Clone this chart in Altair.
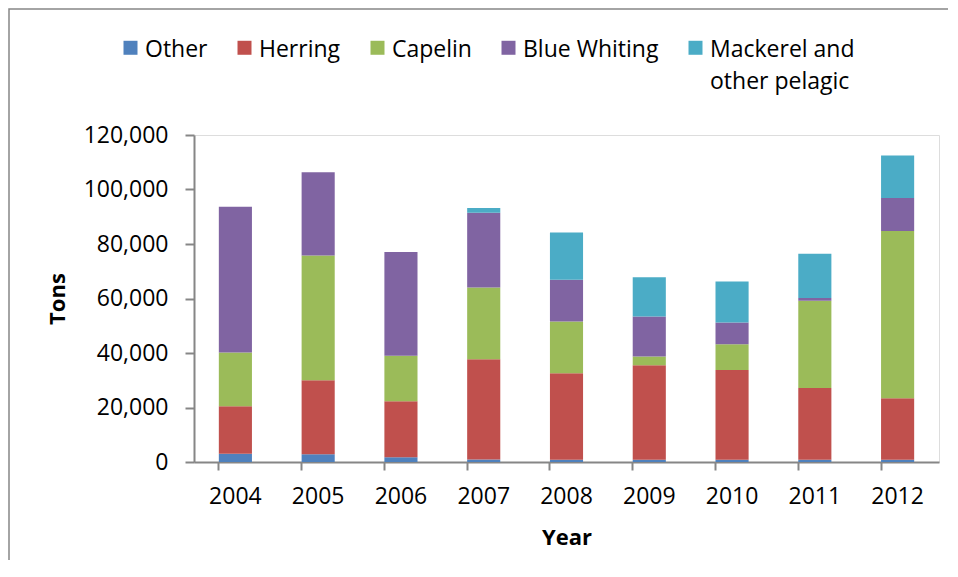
import altair as alt
import pandas as pd

years = ["2004", "2005", "2006", "2007", "2008", "2009", "2010", "2011", "2012"]
species = ["Other", "Herring", "Capelin", "Blue Whiting", "Mackerel and other pelagic"]
colors = ["#4F81BD", "#C0504D", "#9BBB59", "#8064A2", "#4BACC6"]

other = [3000, 2800, 1700, 900, 800, 800, 800, 800, 800]
herring = [17500, 27200, 20600, 36800, 31800, 34700, 33000, 26400, 22600]
capelin = [19650, 45800, 16700, 26300, 19000, 3200, 9400, 32000, 61400]
blue_whiting = [53550, 30500, 38100, 27500, 15300, 14700, 8000, 1000, 12100]
mackerel = [0, 0, 0, 1700, 17300, 14400, 15000, 16200, 15600]

y_ticks = [0, 20000, 40000, 60000, 80000, 100000, 120000]

series = [other, herring, capelin, blue_whiting, mackerel]
rows = []
for si, (name, vals) in enumerate(zip(species, series)):
    for yr, v in zip(years, vals):
        rows.append({"Year": yr, "Species": name, "Tons": v, "idx": si})
df = pd.DataFrame(rows)

FONT = "Open Sans"
AX = "#868686"

bars = alt.Chart(df).mark_bar().encode(
    x=alt.X(
        "Year:N",
        sort=years,
        title="Year",
        scale=alt.Scale(paddingInner=0.6, paddingOuter=0.3),
        axis=alt.Axis(
            labelAngle=0,
            bandPosition=0,
            domainColor=AX,
            domainWidth=2,
            tickColor=AX,
            tickWidth=2,
            tickSize=8,
            labelFont=FONT,
            labelFontSize=23,
            labelColor="#000000",
            labelPadding=15,
            titleFont=FONT,
            titleFontSize=22,
            titleFontWeight="bold",
            titleColor="#000000",
            titlePadding=19,
        ),
    ),
    y=alt.Y(
        "Tons:Q",
        title="Tons",
        scale=alt.Scale(domain=[0, 120000], nice=False),
        axis=alt.Axis(
            values=y_ticks,
            labelExpr="format(datum.value, ',.0f')",
            grid=False,
            domainColor=AX,
            domainWidth=2,
            tickColor=AX,
            tickWidth=2,
            tickSize=9,
            labelFont=FONT,
            labelFontSize=23,
            labelColor="#000000",
            labelPadding=17,
            titleFont=FONT,
            titleFontSize=22,
            titleFontWeight="bold",
            titleColor="#000000",
            titlePadding=14,
        ),
    ),
    color=alt.Color(
        "Species:N",
        scale=alt.Scale(domain=species, range=colors),
        legend=alt.Legend(
            title=None,
            orient="none",
            legendX=-75,
            legendY=-108,
            direction="horizontal",
            columns=5,
            symbolType="M-1,0.29H1V2.29H-1Z",
            symbolSize=196,
            symbolStrokeWidth=0,
            symbolOpacity=1,
            labelFont=FONT,
            labelFontSize=23,
            labelColor="#000000",
            labelBaseline="top",
            labelOffset=3,
            labelLimit=400,
            columnPadding=25,
            labelExpr="datum.label == 'Mackerel and other pelagic' ? ['Mackerel and', 'other pelagic'] : [datum.label, '']",
        ),
    ),
    order=alt.Order("idx:Q", sort="ascending"),
)

frame = alt.Chart(pd.DataFrame({"a": [0]})).mark_rect(
    fillOpacity=0, stroke=AX, strokeWidth=1.5
).encode(
    x=alt.value(-185),
    x2=alt.value(900),
    y=alt.value(-126),
    y2=alt.value(600),
)

chart = alt.layer(frame, bars).properties(
    width=745,
    height=327,
    autosize=alt.AutoSizeParams(type="none"),
    padding={"left": 186, "top": 127, "right": 9, "bottom": 98},
).configure_view(stroke=None).configure(
    style={"guide-label": {"lineHeight": 32}}
)

chart.save("out.html", embed_options={"renderer": "svg", "actions": False})
